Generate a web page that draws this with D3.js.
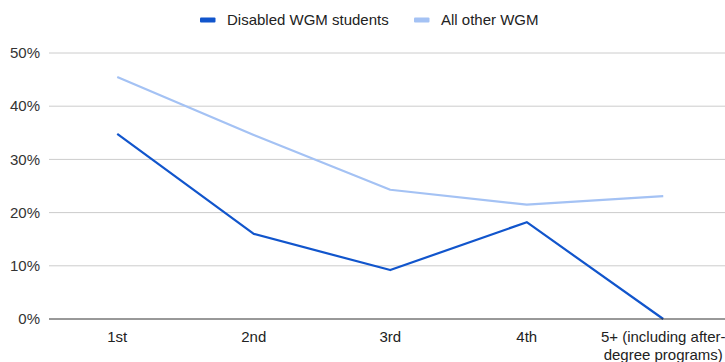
<!DOCTYPE html>
<html>
<head>
<meta charset="utf-8">
<script src="https://cdn.jsdelivr.net/npm/d3@7"></script>
<style>
  html, body { margin: 0; padding: 0; background: #fff; }
  svg { display: block; font-family: "Liberation Sans", Arial, sans-serif; }
</style>
</head>
<body>
<svg id="chart" width="725" height="362"></svg>
<script>
// Year of study and share of respondents for each group
const categories = ["1st", "2nd", "3rd", "4th", "5+ (including after-degree programs)"];
const categoryLines = [["1st"], ["2nd"], ["3rd"], ["4th"], ["5+ (including after-", "degree programs)"]];
const disabledWGM = [34.8, 16.0, 9.2, 18.2, 0];
const otherWGM = [45.5, 34.6, 24.3, 21.5, 23.1];
const yTicks = [0, 10, 20, 30, 40, 50];
const seriesNames = ["Disabled WGM students", "All other WGM"];
const seriesColors = ["#1155cc", "#a4c2f4"];

const svg = d3.select("#chart");
const plot = { left: 49, right: 731.5, top: 53, bottom: 319 };
const fontSize = 15;

const x = d3.scaleBand().domain(categories).range([plot.left, plot.right]);
const y = d3.scaleLinear().domain([0, 50]).range([plot.bottom, plot.top]);

// horizontal gridlines
svg.append("g").selectAll("line")
  .data(yTicks.filter(t => t !== 0))
  .join("line")
  .attr("x1", plot.left).attr("x2", 725)
  .attr("y1", d => y(d)).attr("y2", d => y(d))
  .attr("stroke", "#cccccc").attr("stroke-width", 1);

// y tick labels
svg.append("g").selectAll("text")
  .data(yTicks)
  .join("text")
  .attr("x", 40).attr("y", d => y(d))
  .attr("dy", "0.35em")
  .attr("text-anchor", "end")
  .attr("font-size", fontSize)
  .attr("fill", "#333")
  .text(d => d + "%");

// x labels
const xl = svg.append("g").selectAll("text")
  .data(categories)
  .join("text")
  .attr("x", d => x(d) + x.bandwidth() / 2)
  .attr("y", 342)
  .attr("text-anchor", "middle")
  .attr("font-size", fontSize)
  .attr("fill", "#222");
xl.each(function(d, i) {
  const t = d3.select(this);
  categoryLines[i].forEach((line, j) => {
    t.append("tspan")
      .attr("x", x(d) + x.bandwidth() / 2)
      .attr("dy", j === 0 ? 0 : 17.5)
      .text(line);
  });
});

// lines
const line = d3.line()
  .x((d, i) => x(categories[i]) + x.bandwidth() / 2)
  .y(d => y(d));

[otherWGM, disabledWGM].forEach((vals, k) => {
  const color = k === 0 ? seriesColors[1] : seriesColors[0];
  svg.append("path")
    .datum(vals)
    .attr("fill", "none")
    .attr("stroke", color)
    .attr("stroke-width", 2.2)
    .attr("stroke-linejoin", "round")
    .attr("d", line);
});

// baseline
svg.append("line")
  .attr("x1", plot.left).attr("x2", 725)
  .attr("y1", y(0)).attr("y2", y(0))
  .attr("stroke", "#333").attr("stroke-width", 1);

// legend
const legendItems = [
  { name: seriesNames[0], color: seriesColors[0], x: 200 },
  { name: seriesNames[1], color: seriesColors[1], x: 414 }
];
const lg = svg.append("g").selectAll("g").data(legendItems).join("g")
  .attr("transform", d => `translate(${d.x},20)`);
lg.append("rect").attr("x", 0).attr("y", -2.5).attr("width", 15.5).attr("height", 5)
  .attr("rx", 1).attr("fill", d => d.color);
lg.append("text").attr("x", 27).attr("dy", "0.35em")
  .attr("font-size", fontSize).attr("fill", "#222").text(d => d.name);
</script>
</body>
</html>
